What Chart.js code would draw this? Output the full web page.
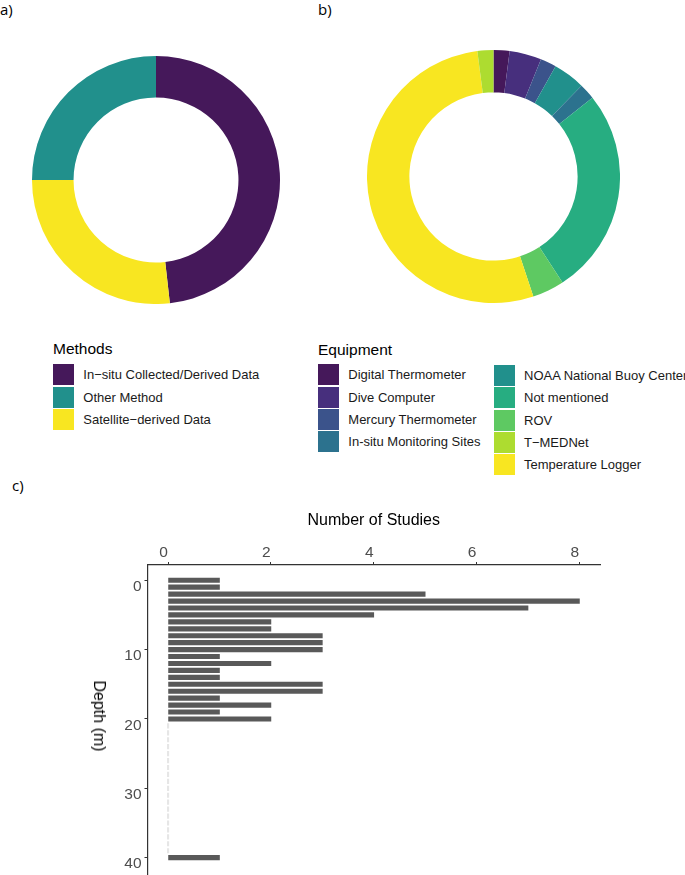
<!DOCTYPE html>
<html>
<head>
<meta charset="utf-8">
<title>Temperature methods, equipment and depth</title>
<script src="https://cdn.jsdelivr.net/npm/chart.js@4.4.1/dist/chart.umd.min.js"></script>
<style>
  html, body { margin: 0; padding: 0; background: #fff; }
  body { width: 685px; height: 875px; position: relative; overflow: hidden;
         font-family: Arial, "Liberation Sans", sans-serif; color: #000; }
  .abs { position: absolute; }
  .panel { font-family: "Open Sans", sans-serif; font-size: 15px; line-height: 18px; }
  .legend-title { font-size: 15.5px; line-height: 18px; }
  .key { position: absolute; width: 21px; height: 21px; }
  .key-label { position: absolute; font-size: 13px; line-height: 21px; white-space: nowrap; color: #1a1a1a; }
  #depthTitle { font-size: 16px; line-height: 18px; white-space: nowrap;
                transform: translate(-50%, -50%) rotate(90deg); }
</style>
</head>
<body>

<div class="abs panel" style="left:0px; top:0px;">a)</div>
<div class="abs panel" style="left:318px; top:0px;">b)</div>
<div class="abs panel" style="left:12px; top:476px;">c)</div>

<div class="abs" style="left:31.5px; top:55.7px; width:248px; height:248px;">
  <canvas id="methodsChart"></canvas>
</div>
<div class="abs" style="left:366.8px; top:49.5px; width:253px; height:253px;">
  <canvas id="equipmentChart"></canvas>
</div>

<div id="methodsLegend"></div>
<div id="equipmentLegend"></div>

<div class="abs" style="left:0px; top:500px; width:685px; height:375px;">
  <canvas id="depthChart"></canvas>
</div>
<div id="depthTitle" class="abs" style="left:99px; top:716px;">Depth (m)</div>

<script>
// a) methods (legend order)
const methodLabels = ['In\u2212situ Collected/Derived Data', 'Other Method', 'Satellite\u2212derived Data'];
const methodCounts = [27, 14, 15];
const methodColors = ['#45185a', '#21908c', '#f8e621'];
// clockwise from the top, as in the ring
const methodRingOrder = [0, 2, 1];

// b) equipment (legend order)
const equipmentLabels = [
  'Digital Thermometer', 'Dive Computer', 'Mercury Thermometer', 'In-situ Monitoring Sites',
  'NOAA National Buoy Center', 'Not mentioned', 'ROV', 'T\u2212MEDNet', 'Temperature Logger'
];
const equipmentCounts = [1, 2, 1, 1, 2, 13, 2, 1, 26];
const equipmentColors = ['#45185a', '#472f7d', '#3b538b', '#2c728e', '#21908c', '#27ad81', '#5ec962', '#addc30', '#f8e621'];
const equipmentRingOrder = [0, 1, 2, 4, 3, 5, 6, 8, 7];

// c) number of studies per depth (m)
const depths = [0, 1, 2, 3, 4, 5, 6, 7, 8, 9, 10, 11, 12, 13, 14, 15, 16, 17, 18, 19, 20,
                21, 22, 23, 24, 25, 26, 27, 28, 29, 30, 31, 32, 33, 34, 35, 36, 37, 38, 39, 40];
const studyCounts = [1, 1, 5, 8, 7, 4, 2, 2, 3, 3, 3, 1, 2, 1, 1, 3, 3, 1, 2, 1, 2,
                     0, 0, 0, 0, 0, 0, 0, 0, 0, 0, 0, 0, 0, 0, 0, 0, 0, 0, 0, 1];
const studyTicks = [0, 2, 4, 6, 8];
const depthTicks = [0, 10, 20, 30, 40];

const fontFamily = 'Arial, "Liberation Sans", sans-serif';

// Build an HTML legend column from labels and colours
function buildLegend(container, title, titlePos, columns) {
  const t = document.createElement('div');
  t.className = 'abs legend-title';
  t.style.left = titlePos.x + 'px';
  t.style.top = titlePos.y + 'px';
  t.textContent = title;
  container.appendChild(t);

  columns.forEach(col => {
    col.items.forEach((item, i) => {
      const top = col.y + i * 22.3;
      const key = document.createElement('div');
      key.className = 'key';
      key.style.left = col.x + 'px';
      key.style.top = top + 'px';
      key.style.background = item.color;
      container.appendChild(key);

      const lab = document.createElement('div');
      lab.className = 'key-label';
      lab.style.left = (col.x + 30) + 'px';
      lab.style.top = top + 'px';
      lab.textContent = item.label;
      container.appendChild(lab);
    });
  });
}

const methodItems = methodLabels.map((l, i) => ({ label: l, color: methodColors[i] }));
const equipmentItems = equipmentLabels.map((l, i) => ({ label: l, color: equipmentColors[i] }));

buildLegend(document.getElementById('methodsLegend'), 'Methods', { x: 53, y: 340 },
  [{ x: 53.3, y: 364.3, items: methodItems }]);
buildLegend(document.getElementById('equipmentLegend'), 'Equipment', { x: 318, y: 341 },
  [{ x: 318.3, y: 364.3, items: equipmentItems.slice(0, 4) },
   { x: 494, y: 365, items: equipmentItems.slice(4) }]);

// Doughnut charts
function makeRing(canvasId, order, labels, counts, colors) {
  const ctx = document.getElementById(canvasId).getContext('2d');
  return new Chart(ctx, {
    type: 'doughnut',
    data: {
      labels: order.map(i => labels[i]),
      datasets: [{
        data: order.map(i => counts[i]),
        backgroundColor: order.map(i => colors[i]),
        borderWidth: 0,
        hoverOffset: 0,
      }],
    },
    options: {
      responsive: true,
      maintainAspectRatio: false,
      animation: false,
      events: [],
      cutout: '66.5%',
      layout: { padding: 0 },
      plugins: {
        legend: { display: false },
        tooltip: { enabled: false },
      },
    },
  });
}

makeRing('methodsChart', methodRingOrder, methodLabels, methodCounts, methodColors);
makeRing('equipmentChart', equipmentRingOrder, equipmentLabels, equipmentCounts, equipmentColors);

// Horizontal bar chart of depth
const depthCtx = document.getElementById('depthChart').getContext('2d');
new Chart(depthCtx, {
  type: 'bar',
  data: {
    datasets: [{
      data: depths.map((d, i) => ({ x: studyCounts[i], y: d })),
      backgroundColor: ctx => studyCounts[ctx.dataIndex] === 0 ? '#e6e6e6' : '#595959',
      borderWidth: 0,
      barThickness: 4.5,
      minBarLength: 1.5,
    }],
  },
  options: {
    indexAxis: 'y',
    responsive: true,
    maintainAspectRatio: false,
    animation: false,
    events: [],
    layout: { padding: { left: 0, right: 85, top: 0, bottom: 0 } },
    plugins: {
      legend: { display: false },
      tooltip: { enabled: false },
    },
    scales: {
      x: {
        type: 'linear',
        position: 'top',
        min: -0.4,
        max: 8.4,
        afterBuildTicks: s => { s.ticks = studyTicks.map(v => ({ value: v })); },
        afterFit: s => { s.height = 65; },
        grid: { drawOnChartArea: false, drawTicks: true, tickLength: 3, color: '#333' },
        border: { display: true, color: '#333', width: 1.2 },
        ticks: {
          color: '#4d4d4d',
          font: { family: fontFamily, size: 15.5 },
          padding: 0,
          labelOffset: -4.5,
          maxRotation: 0,
          autoSkip: false,
        },
        title: {
          display: true,
          text: 'Number of Studies',
          color: '#000',
          font: { family: fontFamily, size: 16 },
          padding: { top: 11, bottom: 0 },
        },
      },
      y: {
        type: 'linear',
        reverse: true,
        offset: false,
        min: -2.2,
        max: 42.5,
        afterBuildTicks: s => { s.ticks = depthTicks.map(v => ({ value: v })); },
        afterFit: s => {
          s.width = 147.5;
          // panel runs to the bottom edge, no room kept for the last label
          s.paddingTop = 0;
          s.paddingBottom = 0;
        },
        grid: { drawOnChartArea: false, drawTicks: true, tickLength: 3, color: '#333', offset: false },
        border: { display: true, color: '#333', width: 1.2 },
        ticks: {
          color: '#4d4d4d',
          font: { family: fontFamily, size: 15.5 },
          padding: 3,
          labelOffset: 6.5,
          autoSkip: false,
        },
      },
    },
  },
});
</script>
</body>
</html>
